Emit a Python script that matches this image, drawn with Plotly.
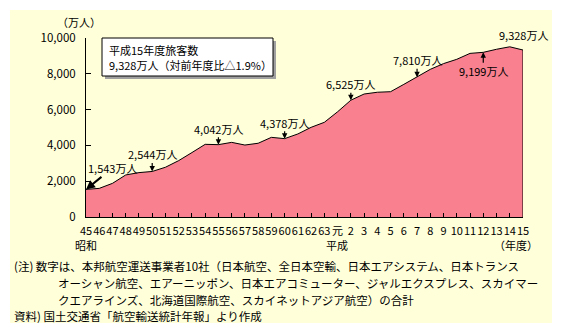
import plotly.graph_objects as go

# 年度ラベル（昭和45〜63、平成元〜15）
year_labels = ["45", "46", "47", "48", "49", "50", "51", "52", "53", "54",
               "55", "56", "57", "58", "59", "60", "61", "62", "63",
               "元", "2", "3", "4", "5", "6", "7", "8", "9", "10", "11",
               "12", "13", "14", "15"]
# 国内航空旅客数（万人）
passengers = [1543, 1600, 1880, 2350, 2480, 2544, 2780, 3150, 3600, 4060,
              4042, 4170, 4020, 4120, 4450, 4378, 4640, 5010, 5290,
              5880, 6525, 6870, 6970, 7000, 7410, 7810, 8250, 8570, 8810, 9140,
              9199, 9370, 9509, 9328]
y_ticks = [0, 2000, 4000, 6000, 8000, 10000]

# labelled points: (index, text, ax, ay)
callouts = [(0, "1,543万人", 26, -21), (5, "2,544万人", 0, -17),
            (10, "4,042万人", 0, -16), (15, "4,378万人", 0, -16),
            (20, "6,525万人", 0, -16), (25, "7,810万人", 0, -17),
            (30, "9,199万人", 0, 19)]

FONT = "Noto Sans CJK JP"
W, H = 562, 333
L, R, T, B = 86, 39, 38, 116
PW = W - L - R
PH = H - T - B


def px(x):
    return (x - L) / PW


def py(y):
    return 1 - (y - T) / PH


xs = list(range(len(passengers)))

fig = go.Figure()
fig.add_trace(go.Scatter(
    x=xs + [xs[-1]], y=passengers + [0], mode="lines",
    fill="tozeroy", fillcolor="rgb(249,128,143)",
    line=dict(color="black", width=1), hoverinfo="skip"))

shapes = [
    # yellow background
    dict(type="rect", xref="paper", yref="paper", x0=px(10), x1=px(552),
         y0=py(323), y1=py(10), fillcolor="#FFFFD9", line=dict(width=0),
         layer="below"),
    # box shadow
    dict(type="rect", xref="paper", yref="paper", x0=px(105), x1=px(276),
         y0=py(79), y1=py(41), fillcolor="#A0A0A0", line=dict(width=0)),
    # box
    dict(type="rect", xref="paper", yref="paper", x0=px(102), x1=px(273),
         y0=py(76), y1=py(38), fillcolor="white",
         line=dict(color="black", width=1)),
]

annotations = []
for i, txt, ax, ay in callouts:
    annotations.append(dict(
        x=i, y=passengers[i], xref="x", yref="y", text=txt,
        showarrow=True, ax=ax, ay=ay, arrowhead=2,
        arrowsize=0.9, arrowwidth=2 if i == 0 else 1.2, arrowcolor="black",
        font=dict(family=FONT, size=11, color="black"), borderpad=0))
annotations.append(dict(
    x=xs[-1], y=passengers[-1], xref="x", yref="y", text="9,328万人",
    showarrow=False, yshift=15, font=dict(family=FONT, size=11, color="black")))

box_lines = [("平成15年度旅客数", 50), ("9,328万人（対前年度比△1.9%）", 65)]
for txt, y in box_lines:
    annotations.append(dict(
        x=px(108), y=py(y), xref="paper", yref="paper", xanchor="left",
        yanchor="middle", showarrow=False, text=txt, borderpad=0,
        font=dict(family=FONT, size=11, color="black")))

outer = [("（万人）", px(79), py(22), "center"),
         ("昭和", px(86), py(245), "center"),
         ("平成", px(337), py(245), "center"),
         ("（年度）", px(516), py(245), "center")]
for txt, x, y, anc in outer:
    annotations.append(dict(x=x, y=y, xref="paper", yref="paper", text=txt,
                            showarrow=False, xanchor=anc, yanchor="middle",
                            font=dict(family=FONT, size=11, color="black")))

notes = [
    ("(注) 数字は、本邦航空運送事業者10社（日本航空、全日本空輸、日本エアシステム、日本トランス", 13, 266),
    ("オーシャン航空、エアーニッポン、日本エアコミューター、ジャルエクスプレス、スカイマー", 57, 283),
    ("クエアラインズ、北海道国際航空、スカイネットアジア航空）の合計", 57, 300),
    ("資料) 国土交通省「航空輸送統計年報」より作成", 13, 316),
]
for txt, x, y in notes:
    annotations.append(dict(x=px(x), y=py(y), xref="paper", yref="paper",
                            text=txt, showarrow=False, xanchor="left",
                            yanchor="middle", borderpad=0,
                            font=dict(family=FONT, size=11.5, color="black")))

fig.update_layout(
    width=W, height=H, margin=dict(l=L, r=R, t=T, b=B, pad=0),
    paper_bgcolor="white", plot_bgcolor="rgba(0,0,0,0)",
    showlegend=False, shapes=shapes, annotations=annotations,
    font=dict(family=FONT, size=11, color="black"),
    xaxis=dict(range=[0, len(xs) - 1], tickmode="array", tickvals=xs,
               ticktext=year_labels, ticks="inside", ticklen=4,
               tickcolor="black", showline=True, linecolor="black",
               linewidth=1, showgrid=False, zeroline=False, tickangle=0,
               ticklabelstandoff=4,
               tickfont=dict(family=FONT, size=11)),
    yaxis=dict(range=[0, 10000], tickmode="array", tickvals=y_ticks,
               ticktext=[f"{v:,}" for v in y_ticks], ticks="inside",
               ticklen=5, tickcolor="black", showline=True,
               linecolor="black", linewidth=1, showgrid=False,
               zeroline=False, ticklabelstandoff=7,
               tickfont=dict(family=FONT, size=11.5)),
)

fig.write_html("out.html")
